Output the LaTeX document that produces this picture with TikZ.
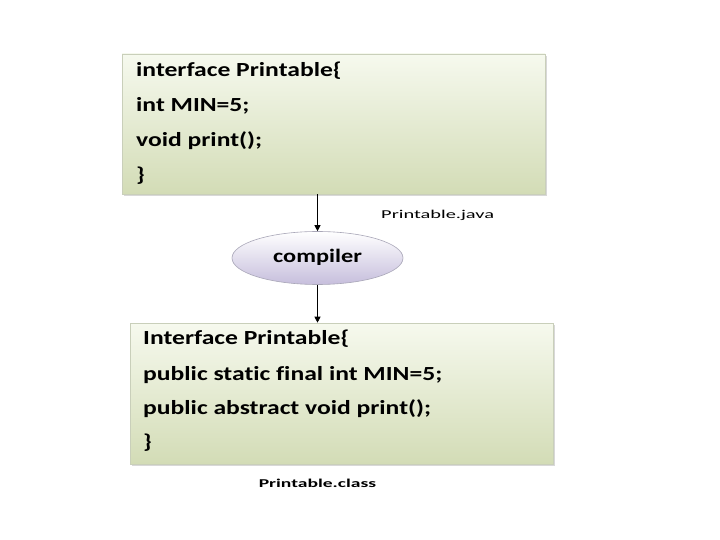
\documentclass[tikz,border=0pt]{standalone}
\usepackage{fontspec}
\setmainfont{Carlito}
\newfontfamily\codefont{Carlito}[FakeStretch=1.28, Ligatures=NoCommon]
\newfontfamily\javafont{Carlito}[FakeStretch=1.7]
\newfontfamily\classfont{Carlito}[FakeStretch=1.63]
\usetikzlibrary{shapes.geometric,arrows.meta,shadows}
\definecolor{boxtop}{HTML}{F6F9EE}
\definecolor{boxbot}{HTML}{D3DCB6}
\definecolor{boxline}{HTML}{C9CFBA}
\definecolor{elltop}{HTML}{FFFFFF}
\definecolor{ellbot}{HTML}{C6BEDC}
\definecolor{ellline}{HTML}{A9A7B8}
\tikzset{
  codebox/.style={rectangle, draw=boxline, line width=0.6pt, top color=boxtop, bottom color=boxbot,
    inner sep=0pt, drop shadow={shadow xshift=1.5pt, shadow yshift=-2pt, fill=gray!60, opacity=0.5}},
  codeline/.style={anchor=west, inner sep=0pt, font=\codefont\bfseries\fontsize{20}{22}\selectfont},
  procell/.style={ellipse, draw=ellline, line width=0.6pt, top color=elltop, bottom color=ellbot,
    inner sep=0pt, minimum width=171pt, minimum height=53pt, font=\codefont\bfseries\fontsize{19}{21}\selectfont},
  filelabel/.style={inner sep=0pt, font=\javafont\fontsize{12}{14}\selectfont},
  flow/.style={-{Triangle[length=6pt,width=6pt]}, line width=0.8pt, black}
}
\begin{document}
\begin{tikzpicture}[x=1pt,y=-1pt]
\useasboundingbox (0,0) rectangle (720,540);
\fill[white] (0,0) rectangle (720,540);
% top box
\node[codebox, minimum width=423pt, minimum height=140pt] (b1) at (333.5,124) {};
\node[codeline] (l1) at (136,71) {interface Printable\{};
\node[codeline] (l2) at (136,106) {int MIN=5;};
\node[codeline] (l3) at (136,141) {void print();};
\node[codeline] (l4) at (136,176) {\}};
\node[filelabel, anchor=west] (fj) at (381,215) {Printable.java};
% compiler
\node[procell] (comp) at (317.5,258) {\raisebox{4pt}{compiler}};
% bottom box
\node[codebox, minimum width=423pt, minimum height=141pt] (b2) at (341.5,393.5) {};
\node[codeline] (m1) at (143,339) {Interface Printable\{};
\node[codeline] (m2) at (143,375) {public static final int MIN=5;};
\node[codeline] (m3) at (143,409) {public abstract void print();};
\node[codeline] (m4) at (143,443) {\}};
\node[filelabel, font=\classfont\bfseries\fontsize{12}{14}\selectfont] (fc) at (317.5,483) {Printable.class};
% connectors
\draw[flow] (b1.south -| comp.north) -- (comp.north);
\draw[flow] (comp.south) -- (b2.north -| comp.south);
\end{tikzpicture}
\end{document}
